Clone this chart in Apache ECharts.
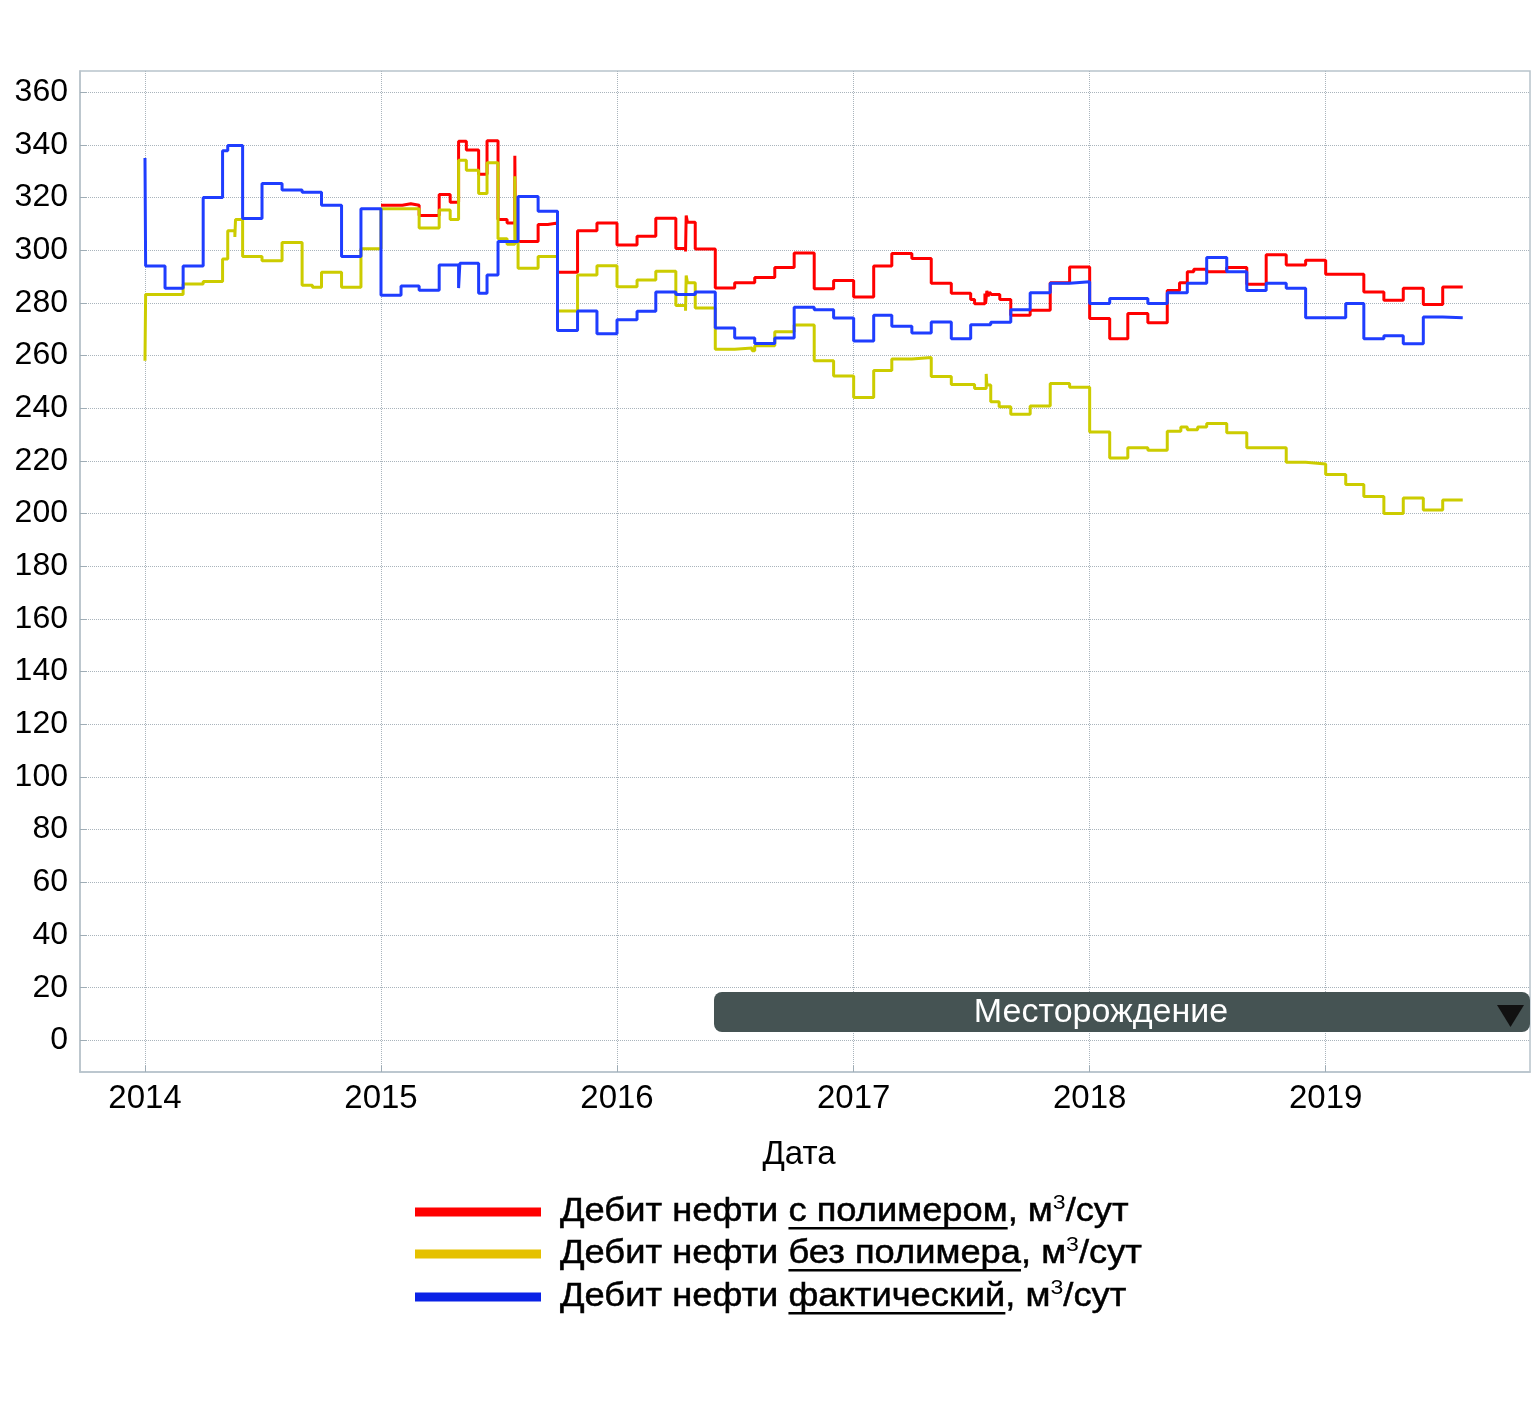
<!DOCTYPE html>
<html><head><meta charset="utf-8">
<script src="https://cdn.jsdelivr.net/npm/echarts@6/dist/echarts.min.js"></script>
<style>html,body{margin:0;padding:0;background:#fff}#c{width:1533px;height:1410px}</style>
</head><body><div id="c"></div>
<script>
// ---- data ----
const yTickValues = [0,20,40,60,80,100,120,140,160,180,200,220,240,260,280,300,320,340,360];
const xTickDates = ['2014-01-01','2015-01-01','2016-01-01','2017-01-01','2018-01-01','2019-01-01'];

const redDates = ['2015-01-01','2015-02-03','2015-02-16','2015-03-01','2015-04-01','2015-04-18','2015-05-01','2015-05-13','2015-06-01','2015-06-14','2015-07-01','2015-07-15','2015-07-27','2015-07-28','2015-09-01','2015-09-16','2015-10-01','2015-11-01','2015-12-01',
 '2016-01-01','2016-02-01','2016-03-01','2016-04-01','2016-04-16','2016-04-17','2016-04-19','2016-05-01','2016-06-01','2016-07-01','2016-08-01','2016-09-01','2016-10-01','2016-11-01','2016-12-01',
 '2017-01-01','2017-02-01','2017-03-01','2017-04-01','2017-05-01','2017-06-01','2017-07-01','2017-07-07','2017-07-23','2017-07-24','2017-07-26','2017-07-28','2017-07-30','2017-08-02','2017-08-15','2017-09-01','2017-10-01','2017-11-01','2017-12-01',
 '2018-01-01','2018-02-01','2018-03-01','2018-04-01','2018-05-01','2018-05-20','2018-06-01','2018-06-11','2018-07-01','2018-08-01','2018-09-01','2018-10-01','2018-11-01','2018-12-01',
 '2019-01-01','2019-03-01','2019-04-01','2019-05-01','2019-06-01','2019-07-01','2019-08-01'];
const redValues = [317,317.6,317,313.1,321.1,318.2,341.3,338,328.8,341.5,311.6,310.3,335.8,303.3,309.7,310.3,291.6,307.4,310.3,
 301.9,305.3,312.1,300.6,299.5,313.1,310.6,300.4,285.6,287.6,289.6,293.4,298.9,285.3,288.5,
 282.2,294,298.7,296.8,287.4,283.6,281.3,279.6,283.5,279.6,284.5,282.5,284,283.2,281.3,275.3,277.2,287.6,293.6,
 274,266.4,275.9,272.4,284.7,287.6,291.8,292.7,291.8,293.4,287,298.2,294.4,296.2,
 290.8,284.1,281,285.5,279.4,286,286];

const yellowDates = ['2014-01-01','2014-01-02','2014-03-01','2014-04-01','2014-05-01','2014-05-09','2014-05-20','2014-05-21','2014-06-01','2014-07-01','2014-08-01','2014-09-01','2014-09-17','2014-10-01','2014-11-01','2014-12-01',
 '2015-01-01','2015-03-01','2015-04-01','2015-04-18','2015-05-01','2015-05-13','2015-06-01','2015-06-14','2015-07-01','2015-07-15','2015-07-27','2015-07-28','2015-08-01','2015-09-01','2015-10-01','2015-11-01','2015-12-01',
 '2016-01-01','2016-02-01','2016-03-01','2016-04-01','2016-04-16','2016-04-17','2016-04-19','2016-05-01','2016-06-01','2016-07-01','2016-07-28','2016-08-01','2016-09-01','2016-10-01','2016-11-01','2016-12-01',
 '2017-01-01','2017-02-01','2017-03-01','2017-04-01','2017-05-01','2017-06-01','2017-07-07','2017-07-25','2017-07-26','2017-08-01','2017-08-14','2017-09-01','2017-10-01','2017-11-01','2017-12-01',
 '2018-01-01','2018-02-01','2018-03-01','2018-04-01','2018-05-01','2018-05-22','2018-06-01','2018-06-17','2018-07-01','2018-08-01','2018-09-01','2018-11-01','2018-12-01',
 '2019-01-01','2019-02-01','2019-03-01','2019-04-01','2019-05-01','2019-06-01','2019-07-01','2019-08-01'];
const yellowValues = [258,283.2,287.1,288.1,296.6,307.4,305,311.6,297.6,296,302.9,286.7,285.9,291.6,285.9,300.5,
 315.7,308.4,315.2,311.6,334.1,330.3,321.5,333.2,304.3,302.2,328,303,293.1,297.6,276.9,290.6,294.1,
 286.1,288.7,292,279,277,290.4,287.6,278,262.4,262.8,261.8,263.7,269,271.6,258,252.2,
 244.1,254.3,258.7,259.2,252,249,247.5,253,248.8,242.4,240.5,237.7,240.8,249.4,247.9,
 231,221.1,225,224,231.2,232.9,231.8,232.9,234.2,230.7,225,219.5,218.8,
 214.8,211,206.5,200,205.9,201.3,205.1,205.1];

const blueDates = ['2014-01-01','2014-01-02','2014-02-01','2014-03-01','2014-04-01','2014-05-01','2014-05-09','2014-06-01','2014-07-01','2014-08-01','2014-09-01','2014-10-01','2014-11-01','2014-12-01',
 '2015-01-01','2015-02-01','2015-03-01','2015-04-01','2015-05-01','2015-05-03','2015-06-01','2015-06-14','2015-07-01','2015-08-01','2015-09-01','2015-10-01','2015-11-01','2015-12-01',
 '2016-01-01','2016-02-01','2016-03-01','2016-04-01','2016-05-01','2016-06-01','2016-07-01','2016-08-01','2016-09-01','2016-10-01','2016-11-01','2016-12-01',
 '2017-01-01','2017-02-01','2017-03-01','2017-04-01','2017-05-01','2017-06-01','2017-07-01','2017-08-01','2017-09-01','2017-10-01','2017-11-01','2017-12-01',
 '2018-01-01','2018-02-01','2018-04-01','2018-05-01','2018-06-01','2018-07-01','2018-08-01','2018-09-01','2018-10-01','2018-11-01','2018-12-01',
 '2019-02-01','2019-03-01','2019-04-01','2019-05-01','2019-06-01','2019-07-01','2019-08-01'];
const blueValues = [335,294,285.5,294,320,337.7,339.7,312,325.3,322.8,322,317,297.6,315.7,
 282.9,286.4,284.8,294.4,285.6,295,283.6,290.6,303.3,320.4,314.8,269.5,276.9,268.3,
 273.6,276.8,284.1,283.2,284.1,270.4,266.6,264.6,266.6,278.3,277.4,274.2,
 265.5,275.3,271.1,268.5,272.7,266.4,271.7,272.6,277.4,283.8,287.4,288,
 279.7,281.6,279.7,283.8,287.4,297.2,291.8,284.7,287.4,285.5,274.3,
 279.7,266.4,267.5,264.5,274.6,274.3,274.3];

const legendPrefix = 'Дебит нефти ';
const legendUnderlined = ['с полимером','без полимера','фактический'];
const unitText = [', м', '3', '/сут'];
const axisXName = 'Дата';
const dropdownLabel = 'Месторождение';

// ---- styles ----
const FONT = '"Liberation Sans", Arial, sans-serif';
const lineColors = ['#ff0000', '#cccc00', '#1f3dff'];
const legendColors = ['#ff0000', '#e5c100', '#0a22e6'];
const gridColor = '#a9b4bc';

const ts = d => Date.UTC(+d.slice(0,4), +d.slice(5,7)-1, +d.slice(8,10));
function pairs(d, v){ return d.map((x,i)=>[ts(x), v[i]]); }
const ctx = document.createElement('canvas').getContext('2d');
function tw(t, size){ ctx.font = size + 'px ' + FONT; return ctx.measureText(t).width; }

const chart = echarts.init(document.getElementById('c'), null, {renderer:'canvas'});

const graphics = [];
const rowsY = [1212, 1254, 1297];
const LF = 33, SX = 1.1;
legendUnderlined.forEach((u, i) => {
  const y = rowsY[i];
  graphics.push({type:'rect', shape:{x:415, y:y-4.5, width:126, height:9}, style:{fill:legendColors[i]}});
  let x = 560;
  const parts = [[legendPrefix, false], [u, true], [unitText[0], false]];
  parts.forEach(([t, ul]) => {
    graphics.push({type:'text', x:x, y:y, scaleX:SX, style:{text:t, font: LF+'px '+FONT, fill:'#000', stroke:'#000', lineWidth:0.5, verticalAlign:'middle', align:'left'}});
    const w = tw(t, LF) * SX;
    if (ul) graphics.push({type:'rect', shape:{x:x, y:y+15, width:w, height:2.5}, style:{fill:'#000'}});
    x += w;
  });
  graphics.push({type:'text', x:x, y:y-9, scaleX:SX, style:{text:unitText[1], font: '21px '+FONT, fill:'#000', verticalAlign:'middle', align:'left'}});
  x += tw(unitText[1], 21) * SX;
  graphics.push({type:'text', x:x, y:y, scaleX:SX, style:{text:unitText[2], font: LF+'px '+FONT, fill:'#000', stroke:'#000', lineWidth:0.5, verticalAlign:'middle', align:'left'}});
});
graphics.push({type:'text', x:799, y:1155, style:{text:axisXName, font:'33px '+FONT, fill:'#000', align:'center', verticalAlign:'middle'}});
graphics.push({type:'rect', shape:{x:714, y:992, width:816, height:40, r:8}, style:{fill:'#455353'}, z:100});
graphics.push({type:'text', x:1101, y:1013, style:{text:dropdownLabel, font:'34px '+FONT, fill:'#ffffff', align:'center', verticalAlign:'middle'}, z:101});
graphics.push({type:'polygon', shape:{points:[[1497,1005],[1524,1005],[1510.5,1027]]}, style:{fill:'#111'}, z:101});

const xTicks = xTickDates.map(ts);
const option = {
  animation: false,
  backgroundColor: '#ffffff',
  grid: {left:80, top:71, right:3, bottom:338, show:true, borderColor:'#b8c3cb', borderWidth:1.5, containLabel:false},
  xAxis: {
    type:'value',
    min: ts('2013-09-22') + 12*3600e3, max: ts('2019-11-13'),
    axisLine:{show:true, onZero:false, lineStyle:{color:'#b8c3cb', width:1.5}},
    axisTick:{show:true, inside:true, length:6, lineStyle:{color:'#9fadb6'}, customValues: xTicks},
    axisLabel:{show:true, margin:10, fontSize:33, fontFamily:FONT, color:'#000',
      customValues: xTicks,
      formatter: v => String(new Date(v).getUTCFullYear())},
    splitLine:{show:true, lineStyle:{color:gridColor, type:'dotted', width:1}}
  },
  yAxis: {
    type:'value', min:-12, max:368,
    axisLine:{show:true, onZero:false, lineStyle:{color:'#b8c3cb', width:1.5}},
    axisTick:{show:true, inside:true, length:7, lineStyle:{color:'#9fadb6'}, customValues: yTickValues},
    axisLabel:{show:true, margin:12, fontSize:32, fontFamily:FONT, color:'#000', customValues: yTickValues},
    splitLine:{show:true, lineStyle:{color:gridColor, type:'dotted', width:1}}
  },
  series: [
    {name:'red', type:'line', step:'end', showSymbol:false, data:pairs(redDates, redValues), lineStyle:{color:lineColors[0], width:3}, itemStyle:{color:lineColors[0]}, z:2},
    {name:'yellow', type:'line', step:'end', showSymbol:false, data:pairs(yellowDates, yellowValues), lineStyle:{color:lineColors[1], width:3}, itemStyle:{color:lineColors[1]}, z:3},
    {name:'blue', type:'line', step:'end', showSymbol:false, data:pairs(blueDates, blueValues), lineStyle:{color:lineColors[2], width:3}, itemStyle:{color:lineColors[2]}, z:4}
  ],
  graphic: graphics
};
chart.setOption(option);
</script>
</body></html>
